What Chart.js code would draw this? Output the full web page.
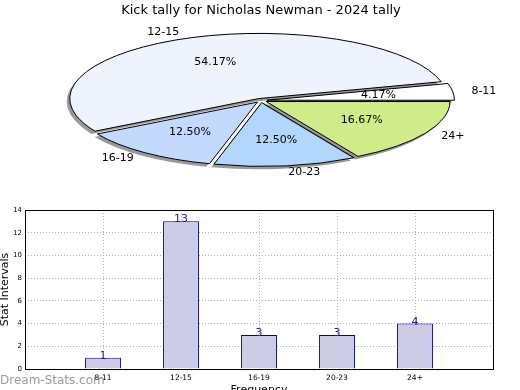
<!DOCTYPE html>
<html><head><meta charset="utf-8">
<script src="https://cdn.jsdelivr.net/npm/chart.js@4/dist/chart.umd.min.js"></script>
<style>
html,body{margin:0;padding:0;background:#fff;overflow:hidden;width:520px;height:390px;}
canvas{position:absolute;left:0;}
#pie{top:0}
#bar{top:195px}
</style></head><body>
<canvas id="pie" width="520" height="195"></canvas>
<canvas id="bar" width="520" height="205"></canvas>
<script>
const chartTitle = 'Kick tally for Nicholas Newman - 2024 tally';
const categories = ['8-11', '12-15', '16-19', '20-23', '24+'];
const counts = [1, 13, 3, 3, 4];
const sliceColors = ['#ffffff', '#eef3fe', '#c4d9ff', '#b3d6fe', '#d0ec8a'];
const yAxisTitle = 'Stat Intervals';
const xAxisTitle = 'Frequency';
const watermark = 'Dream-Stats.com';

const FONT = "'DejaVu Sans', 'Liberation Sans', sans-serif";
const K = 0.345;          // vertical squash of the pie
const total = counts.reduce((a, b) => a + b, 0);

const pieFx = {
  id: 'pieFx',
  beforeDatasetsDraw(chart) {
    const arc = chart.getDatasetMeta(0).data[0];
    const ctx = chart.ctx;
    ctx.save();
    ctx.translate(arc.x, arc.y);
    ctx.scale(1, -K);
    ctx.translate(-arc.x, -arc.y);
    ctx.shadowColor = 'rgba(0,0,0,0.4)';
    ctx.shadowOffsetX = -3;
    ctx.shadowOffsetY = 3;
    ctx.shadowBlur = 0;
  },
  afterDatasetsDraw(chart) {
    const ctx = chart.ctx;
    ctx.restore();
    const meta = chart.getDatasetMeta(0);
    ctx.save();
    meta.data.forEach((el, i) => {
      const { x, y, startAngle, endAngle, outerRadius } = el;
      const off = (el.options.offset || 0) / 4;
      const h = (startAngle + endAngle) / 2;
      const circ = endAngle - startAngle;
      const fix = 1 - Math.sin(Math.min(Math.PI, circ));
      const r = outerRadius + off * fix;
      const sx = x + Math.cos(h) * off;
      const sy = y - K * Math.sin(h) * off;
      ctx.beginPath();
      ctx.moveTo(sx, sy);
      ctx.ellipse(sx, sy, r, r * K, 0, -startAngle, -endAngle, true);
      ctx.closePath();
      ctx.lineWidth = 1;
      ctx.strokeStyle = '#000';
      ctx.stroke();

      ctx.fillStyle = '#000';
      ctx.font = '11px ' + FONT;
      ctx.textBaseline = 'middle';
      const lx = sx + Math.cos(h) * 1.1 * r;
      const ly = sy - K * Math.sin(h) * 1.1 * r;
      ctx.textAlign = lx > sx ? 'left' : 'right';
      ctx.fillText(categories[i], lx, ly);
      const px = sx + Math.cos(h) * 0.6 * r;
      const py = sy - K * Math.sin(h) * 0.6 * r;
      ctx.textAlign = 'center';
      ctx.fillText((counts[i] / total * 100).toFixed(2) + '%', px, py);
    });
    ctx.restore();
  }
};

new Chart(document.getElementById('pie'), {
  type: 'pie',
  data: {
    labels: categories,
    datasets: [{
      data: counts,
      backgroundColor: sliceColors,
      borderWidth: 0,
      offset: 24,
      clip: false
    }]
  },
  options: {
    responsive: false,
    animation: false,
    rotation: 90,
    radius: 183,
    layout: { padding: { left: 2, right: 0, top: 0, bottom: 12.6 } },
    plugins: {
      legend: { display: false },
      tooltip: { enabled: false },
      title: {
        display: true,
        text: chartTitle,
        color: '#000',
        font: { family: FONT, size: 13, weight: 'normal' },
        padding: { top: 3, bottom: 0 }
      }
    }
  },
  plugins: [pieFx]
});

const padLabels = [''].concat(categories, ['']);
const padCounts = [null].concat(counts, [null]);

const barFx = {
  id: 'barFx',
  afterDatasetsDraw(chart) {
    const ctx = chart.ctx;
    const meta = chart.getDatasetMeta(0);
    ctx.save();
    ctx.fillStyle = '#202099';
    ctx.font = '11px ' + FONT;
    ctx.textAlign = 'center';
    ctx.textBaseline = 'alphabetic';
    meta.data.forEach((el, i) => {
      const v = padCounts[i];
      if (v === null) return;
      ctx.fillText(String(v), el.x, el.y + 1);
    });
    ctx.restore();
  },
  afterDraw(chart) {
    const ctx = chart.ctx;
    const a = chart.chartArea;
    ctx.save();
    ctx.strokeStyle = '#000';
    ctx.lineWidth = 1;
    ctx.strokeRect(Math.round(a.left) + 0.5, Math.round(a.top) + 0.5,
                   Math.round(a.right - a.left), Math.round(a.bottom - a.top));
    ctx.fillStyle = 'rgba(120,120,120,0.75)';
    ctx.font = '12px ' + FONT;
    ctx.textAlign = 'left';
    ctx.textBaseline = 'middle';
    ctx.fillText(watermark, 0, 186);
    ctx.restore();
  }
};

new Chart(document.getElementById('bar'), {
  type: 'bar',
  data: {
    labels: padLabels,
    datasets: [{
      data: padCounts,
      backgroundColor: '#ccccE6',
      borderColor: '#000080',
      borderWidth: 1,
      barPercentage: 0.46,
      categoryPercentage: 1
    }]
  },
  options: {
    responsive: false,
    animation: false,
    layout: { padding: { left: 0, right: 27, top: 15, bottom: 0 } },
    plugins: { legend: { display: false }, tooltip: { enabled: false } },
    scales: {
      x: {
        offset: false,
        z: 1,
        grid: { offset: false, color: '#b0b0b0', drawTicks: false, lineWidth: 1 },
        border: { display: false, dash: [1, 2] },
        ticks: { color: '#000', font: { family: FONT, size: 7.5 }, padding: 5, autoSkip: false, maxRotation: 0 },
        title: { display: true, text: xAxisTitle, color: '#000', font: { family: FONT, size: 11 }, padding: { top: 0, bottom: 3 } },
        afterFit(s) { s.height = 31; }
      },
      y: {
        min: 0, max: 14,
        z: 1,
        grid: { color: '#b0b0b0', drawTicks: false, lineWidth: 1 },
        border: { display: false, dash: [1, 2] },
        ticks: { stepSize: 2, color: '#000', font: { family: FONT, size: 7 }, padding: 3 },
        title: { display: true, text: yAxisTitle, color: '#000', font: { family: FONT, size: 11, lineHeight: 1 }, padding: 0 },
        afterFit(s) { s.width = 25; }
      }
    }
  },
  plugins: [barFx]
});
</script>
</body></html>
